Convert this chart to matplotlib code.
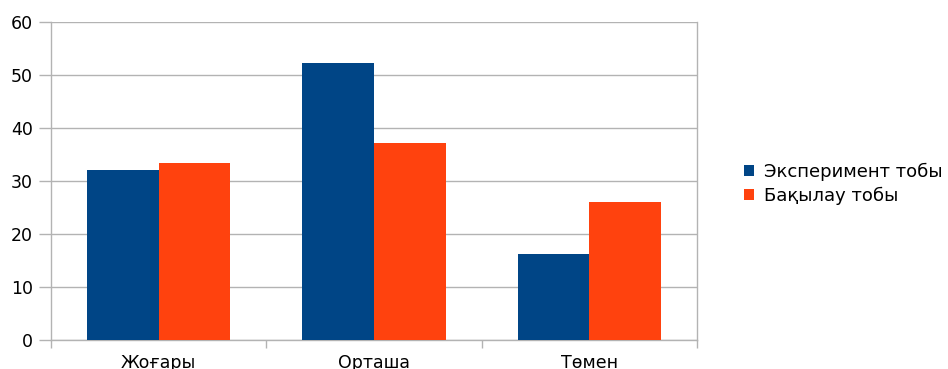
import matplotlib
matplotlib.use("Agg")
import matplotlib.pyplot as plt
import numpy as np
from matplotlib.patches import Patch

categories = ["Жоғары", "Орташа", "Төмен"]
series_names = ["Эксперимент тобы", "Бақылау тобы"]
experiment = [32.1, 52.2, 16.2]
control = [33.4, 37.1, 26.0]
yticks = [0, 10, 20, 30, 40, 50, 60]

colors = ["#004586", "#FF420E"]

plt.rcParams['font.family'] = ['DejaVu Sans']

fig = plt.figure(figsize=(9.48, 3.69), dpi=100)
ax = fig.add_axes([51/948, 29/369, (697-51)/948, (340-21.7)/369])

x = np.arange(len(categories))
w = 1/3
ax.bar(x - w/2, experiment, width=w, color=colors[0], zorder=3)
ax.bar(x + w/2, control, width=w, color=colors[1], zorder=3)

ax.set_xlim(-0.5, len(categories) - 0.5)
ax.set_ylim(0, 60)
ax.set_yticks(yticks)
ax.set_yticklabels([str(v) for v in yticks])
ax.yaxis.grid(True, color="#b3b3b3", linewidth=1, zorder=0)

ax.set_xticks(np.arange(-0.5, len(categories), 1.0))
ax.set_xticklabels([])
ax.set_xticks(x, minor=True)
ax.set_xticklabels(categories, minor=True)
ax.tick_params(axis='x', which='minor', length=0, pad=10, labelsize=12.5)
ax.tick_params(axis='x', which='major', length=6, color="#b3b3b3", width=1)
ax.tick_params(axis='y', length=9, color="#b3b3b3", width=1, pad=4, labelsize=12.5)

for s in ["left", "bottom", "right"]:
    ax.spines[s].set_color("#b3b3b3")
    ax.spines[s].set_linewidth(1)
ax.spines["top"].set_visible(False)

handles = [Patch(facecolor=c, edgecolor="none") for c in colors]
fig.legend(handles, series_names, loc="center left", bbox_to_anchor=(744/948, 185/369),
           frameon=False, fontsize=13, handlelength=0.55, handleheight=0.55,
           handletextpad=0.55, labelspacing=0.3, borderpad=0, borderaxespad=0)

fig.savefig("out.png", dpi=100)
